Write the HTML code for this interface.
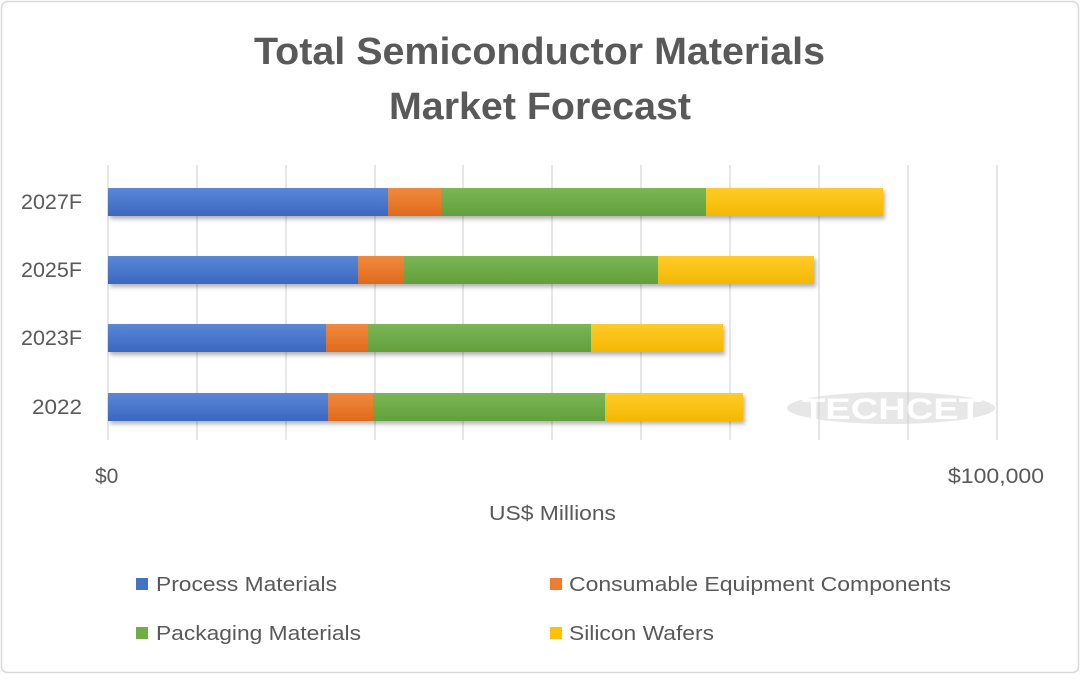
<!DOCTYPE html><html><head><meta charset="utf-8"><style>
body{margin:0;width:1080px;height:674px;background:#fff;overflow:hidden;font-family:"Liberation Sans",sans-serif}
</style></head><body>
<svg width="1080" height="674" xmlns="http://www.w3.org/2000/svg" font-family="Liberation Sans, sans-serif">
<defs>
<linearGradient id="b" x1="0" y1="0" x2="0" y2="1"><stop offset="0" stop-color="#5b87d6"/><stop offset="1" stop-color="#3a67c0"/></linearGradient>
<linearGradient id="o" x1="0" y1="0" x2="0" y2="1"><stop offset="0" stop-color="#f08a3e"/><stop offset="1" stop-color="#e06a1c"/></linearGradient>
<linearGradient id="g" x1="0" y1="0" x2="0" y2="1"><stop offset="0" stop-color="#7bb655"/><stop offset="1" stop-color="#62a03b"/></linearGradient>
<linearGradient id="y" x1="0" y1="0" x2="0" y2="1"><stop offset="0" stop-color="#ffcb2a"/><stop offset="1" stop-color="#f4b800"/></linearGradient>
<filter id="s"><feDropShadow dx="2" dy="3" stdDeviation="2" flood-color="#000" flood-opacity="0.3"/></filter>
</defs>
<rect x="1.5" y="1.5" width="1077" height="671" rx="6" fill="#fff" stroke="#d9d9d9" stroke-width="1.5"/>
<text x="254" y="64" textLength="571" lengthAdjust="spacingAndGlyphs" font-size="38" font-weight="bold" fill="#595959">Total Semiconductor Materials</text>
<text x="389" y="119" textLength="302" lengthAdjust="spacingAndGlyphs" font-size="38" font-weight="bold" fill="#595959">Market Forecast</text>
<g stroke="#d9d9d9" stroke-width="1.3">
<line x1="108" y1="165" x2="108" y2="440"/><line x1="197" y1="165" x2="197" y2="440"/><line x1="286" y1="165" x2="286" y2="440"/><line x1="375" y1="165" x2="375" y2="440"/><line x1="463" y1="165" x2="463" y2="440"/><line x1="552" y1="165" x2="552" y2="440"/><line x1="641" y1="165" x2="641" y2="440"/><line x1="730" y1="165" x2="730" y2="440"/><line x1="819" y1="165" x2="819" y2="440"/><line x1="908" y1="165" x2="908" y2="440"/><line x1="997" y1="165" x2="997" y2="440"/>
</g>
<g opacity="0.5"><ellipse cx="891" cy="408" rx="104" ry="16" fill="#d0d0d0"/>
<text x="802" y="419" textLength="180" lengthAdjust="spacingAndGlyphs" font-size="30" font-weight="bold" fill="#fff">TECHCET</text></g>
<g filter="url(#s)">
<rect x="108" y="188" width="280" height="28" fill="url(#b)"/><rect x="388" y="188" width="53" height="28" fill="url(#o)"/><rect x="441" y="188" width="265" height="28" fill="url(#g)"/><rect x="706" y="188" width="177" height="28" fill="url(#y)"/>
<rect x="108" y="256" width="250" height="28" fill="url(#b)"/><rect x="358" y="256" width="46" height="28" fill="url(#o)"/><rect x="404" y="256" width="254" height="28" fill="url(#g)"/><rect x="658" y="256" width="156" height="28" fill="url(#y)"/>
<rect x="108" y="324" width="218" height="28" fill="url(#b)"/><rect x="326" y="324" width="42" height="28" fill="url(#o)"/><rect x="368" y="324" width="223" height="28" fill="url(#g)"/><rect x="591" y="324" width="132" height="28" fill="url(#y)"/>
<rect x="108" y="393" width="220" height="28" fill="url(#b)"/><rect x="328" y="393" width="45" height="28" fill="url(#o)"/><rect x="373" y="393" width="232" height="28" fill="url(#g)"/><rect x="605" y="393" width="138" height="28" fill="url(#y)"/>
</g>
<g font-size="21" fill="#595959">
<text x="21" y="209" textLength="61" lengthAdjust="spacingAndGlyphs">2027F</text><text x="21" y="277" textLength="61" lengthAdjust="spacingAndGlyphs">2025F</text><text x="21" y="345" textLength="61" lengthAdjust="spacingAndGlyphs">2023F</text><text x="32" y="414" textLength="50" lengthAdjust="spacingAndGlyphs">2022</text>
<text x="95" y="483">$0</text><text x="948" y="483" textLength="96" lengthAdjust="spacingAndGlyphs">$100,000</text>
<text x="489" y="520" font-size="20" textLength="127" lengthAdjust="spacingAndGlyphs">US$ Millions</text>
</g>
<g font-size="20" fill="#595959">
<rect x="136" y="578" width="12" height="12" fill="#4472c4"/><text x="156" y="591" textLength="181" lengthAdjust="spacingAndGlyphs">Process Materials</text>
<rect x="550" y="578" width="12" height="12" fill="#ed7d31"/><text x="569" y="591" textLength="382" lengthAdjust="spacingAndGlyphs">Consumable Equipment Components</text>
<rect x="136" y="627" width="12" height="12" fill="#70ad47"/><text x="156" y="640" textLength="205" lengthAdjust="spacingAndGlyphs">Packaging Materials</text>
<rect x="550" y="627" width="12" height="12" fill="#ffc000"/><text x="569" y="640" textLength="145" lengthAdjust="spacingAndGlyphs">Silicon Wafers</text>
</g>
</svg>
</body></html>
